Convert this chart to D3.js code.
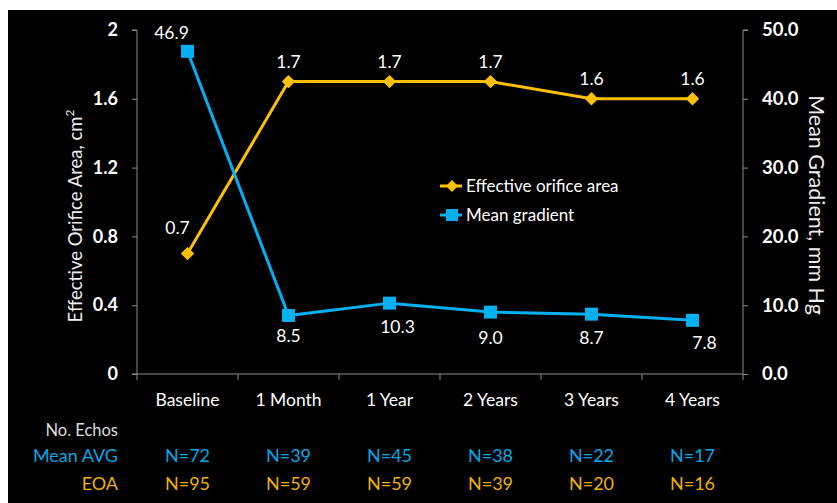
<!DOCTYPE html>
<html>
<head>
<meta charset="utf-8">
<script src="https://cdn.jsdelivr.net/npm/d3@7"></script>
<style>
  html, body { margin: 0; padding: 0; background: #ffffff; }
  svg { display: block; }
  text { font-family: Lato, "Open Sans", sans-serif; }
</style>
</head>
<body>
<svg id="chart" width="837" height="503"></svg>
<script>
const categories = ["Baseline", "1 Month", "1 Year", "2 Years", "3 Years", "4 Years"];
const eoaValues = [0.7, 1.7, 1.7, 1.7, 1.6, 1.6];
const gradientValues = [46.9, 8.5, 10.3, 9.0, 8.7, 7.8];
const leftTicks = [0, 0.4, 0.8, 1.2, 1.6, 2];
const rightTicks = [0, 10, 20, 30, 40, 50];
const meanAvgN = ["N=72", "N=39", "N=45", "N=38", "N=22", "N=17"];
const eoaN = ["N=95", "N=59", "N=59", "N=39", "N=20", "N=16"];
const seriesNames = ["Effective orifice area", "Mean gradient"];

const W = 837, H = 503;
const plot = { left: 137, right: 743, top: 30, bottom: 374 };
const gold = "#FFC000", blue = "#00B0F0";
const goldText = "#F0B000", blueText = "#00A8E8";
const axisColor = "#8c8c8c";

const svg = d3.select("#chart");
svg.append("rect").attr("x", 8).attr("y", 10).attr("width", W - 8).attr("height", H - 10).attr("fill", "#000");

const x = d3.scaleBand().domain(categories).range([plot.left, plot.right]).padding(0);
const yL = d3.scaleLinear().domain([0, 2]).range([plot.bottom, plot.top]);
const yR = d3.scaleLinear().domain([0, 50]).range([plot.bottom, plot.top]);
const cx = d => x(d) + x.bandwidth() / 2;

// Left axis
const leftAxis = d3.axisLeft(yL).tickValues(leftTicks).tickSize(5).tickPadding(14)
  .tickFormat(d => d === 0 || d === 2 ? d3.format("d")(d) : d3.format(".1f")(d));
const gL = svg.append("g").attr("transform", `translate(${plot.left},0)`).call(leftAxis);
gL.select(".domain").attr("stroke", axisColor).attr("d", `M-5,${plot.top}H0V${plot.bottom}`);
gL.selectAll(".tick line").attr("stroke", axisColor);
gL.selectAll(".tick text").attr("fill", "#fff").attr("font-size", 18).attr("font-weight", "bold")
  .attr("font-family", "Lato, sans-serif");

// Right axis
const rightAxis = d3.axisRight(yR).tickValues(rightTicks).tickSize(5).tickPadding(14)
  .tickFormat(d3.format(".1f"));
const gR = svg.append("g").attr("transform", `translate(${plot.right},0)`).call(rightAxis);
gR.select(".domain").attr("stroke", axisColor).attr("d", `M5,${plot.top}H0V${plot.bottom}`);
gR.selectAll(".tick line").attr("stroke", axisColor);
gR.selectAll(".tick text").attr("fill", "#fff").attr("font-size", 18.5).attr("font-weight", "bold")
  .attr("font-family", "Lato, sans-serif");

// Bottom axis
const bottomAxis = d3.axisBottom(x).tickSize(0).tickPadding(20);
const gB = svg.append("g").attr("transform", `translate(0,${plot.bottom})`).call(bottomAxis);
gB.select(".domain").attr("stroke", axisColor).attr("d", `M${plot.left - 5},0H${plot.right}`);
gB.selectAll(".tick text").attr("fill", "#fff").attr("font-size", 17.5)
  .attr("font-family", "Lato, sans-serif");
gB.selectAll(".bound").data(categories.concat([null])).enter().append("line")
  .attr("class", "bound")
  .attr("x1", (d, i) => i < categories.length ? x(d) : plot.right)
  .attr("x2", (d, i) => i < categories.length ? x(d) : plot.right)
  .attr("y1", 0).attr("y2", 6).attr("stroke", axisColor);

// Axis titles
svg.append("text")
  .attr("transform", `translate(82,${(plot.top + plot.bottom) / 2 + 14}) rotate(-90)`)
  .attr("text-anchor", "middle").attr("fill", "#eee").attr("font-size", 18.5)
  .html('Effective Orifice Area, cm<tspan font-size="12" dy="-8">2</tspan>');
svg.append("text")
  .attr("transform", `translate(809,${(plot.top + plot.bottom) / 2 + 3}) rotate(90)`)
  .attr("text-anchor", "middle").attr("fill", "#eee").attr("font-size", 21.5)
  .text("Mean Gradient, mm Hg");

// Lines
const lineL = d3.line().x((d, i) => cx(categories[i])).y(d => yL(d));
const lineR = d3.line().x((d, i) => cx(categories[i])).y(d => yR(d));
svg.append("path").datum(eoaValues).attr("d", lineL).attr("fill", "none").attr("stroke", gold).attr("stroke-width", 3);
svg.append("path").datum(gradientValues).attr("d", lineR).attr("fill", "none").attr("stroke", blue).attr("stroke-width", 3);

const diamond = d3.symbol().type(d3.symbolSquare).size(90);
svg.selectAll(".dm").data(eoaValues).enter().append("path")
  .attr("d", diamond)
  .attr("transform", (d, i) => `translate(${cx(categories[i])},${yL(d)}) rotate(45)`)
  .attr("fill", gold);
svg.selectAll(".sq").data(gradientValues).enter().append("rect")
  .attr("x", (d, i) => cx(categories[i]) - 6.5).attr("y", d => yR(d) - 6.5)
  .attr("width", 13).attr("height", 13).attr("fill", blue);

// Data labels
const eoaLabelOffsets = [[-10, -20], [0, -14], [0, -14], [0, -14], [0, -14], [0, -14]];
svg.selectAll(".el").data(eoaValues).enter().append("text")
  .attr("x", (d, i) => cx(categories[i]) + eoaLabelOffsets[i][0])
  .attr("y", (d, i) => yL(d) + eoaLabelOffsets[i][1])
  .attr("text-anchor", "middle").attr("fill", "#fff").attr("font-size", 17.5)
  .text(d => d3.format(".1f")(d));
const gradLabelOffsets = [[-16, -12], [0, 26], [8, 30], [0, 32], [0, 30], [12, 29]];
svg.selectAll(".gl").data(gradientValues).enter().append("text")
  .attr("x", (d, i) => cx(categories[i]) + gradLabelOffsets[i][0])
  .attr("y", (d, i) => yR(d) + gradLabelOffsets[i][1])
  .attr("text-anchor", "middle").attr("fill", "#fff").attr("font-size", 17.5)
  .text(d => d3.format(".1f")(d));

// Legend
const legend = svg.append("g").attr("transform", "translate(440,0)");
[[gold, 186, "d"], [blue, 215, "s"]].forEach((c, i) => {
  legend.append("line").attr("x1", 0).attr("x2", 22).attr("y1", c[1]).attr("y2", c[1])
    .attr("stroke", c[0]).attr("stroke-width", 3);
  if (c[2] === "d") {
    legend.append("path").attr("d", d3.symbol().type(d3.symbolSquare).size(70))
      .attr("transform", `translate(12,${c[1]}) rotate(45)`).attr("fill", c[0]);
  } else {
    legend.append("rect").attr("x", 6).attr("y", c[1] - 6).attr("width", 12).attr("height", 12).attr("fill", c[0]);
  }
  legend.append("text").attr("x", 26).attr("y", c[1] + 6).attr("fill", "#fff").attr("font-size", 17)
    .text(seriesNames[i]);
});

// Table below
svg.append("text").attr("x", 118).attr("y", 436).attr("text-anchor", "end").attr("fill", "#ddd")
  .attr("font-size", 16.5).text("No. Echos");
svg.append("text").attr("x", 118).attr("y", 462).attr("text-anchor", "end").attr("fill", blueText)
  .attr("font-size", 18).text("Mean AVG");
svg.append("text").attr("x", 118).attr("y", 490).attr("text-anchor", "end").attr("fill", goldText)
  .attr("font-size", 18).text("EOA");
svg.selectAll(".mn").data(meanAvgN).enter().append("text")
  .attr("x", (d, i) => cx(categories[i])).attr("y", 462).attr("text-anchor", "middle")
  .attr("fill", blueText).attr("font-size", 18).text(d => d);
svg.selectAll(".en").data(eoaN).enter().append("text")
  .attr("x", (d, i) => cx(categories[i])).attr("y", 490).attr("text-anchor", "middle")
  .attr("fill", goldText).attr("font-size", 18).text(d => d);
</script>
</body>
</html>
